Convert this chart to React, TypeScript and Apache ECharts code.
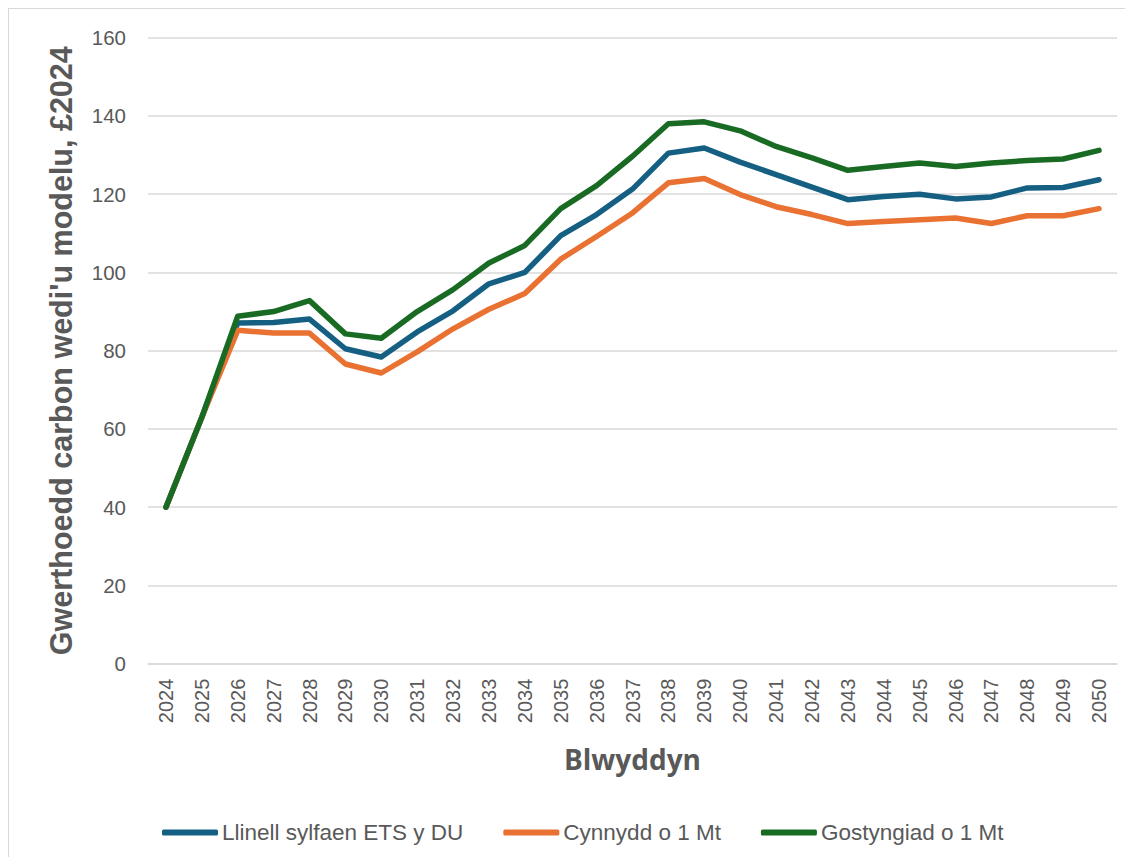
import React, { useEffect, useRef } from "react";
import * as echarts from "echarts";

const years = [
  "2024", "2025", "2026", "2027", "2028", "2029", "2030", "2031", "2032", "2033",
  "2034", "2035", "2036", "2037", "2038", "2039", "2040", "2041", "2042", "2043",
  "2044", "2045", "2046", "2047", "2048", "2049", "2050",
];

const baseline = [
  40, 63, 87.1, 87.2, 88.1, 80.5, 78.4, 84.8, 90.2, 97.1, 100.0, 109.4, 114.8, 121.3,
  130.5, 131.8, 128.2, 125.0, 121.8, 118.6, 119.4, 120.0, 118.8, 119.3, 121.6, 121.7, 123.7,
];

const increase = [
  40, 63, 85.2, 84.5, 84.5, 76.6, 74.3, 79.7, 85.6, 90.6, 94.6, 103.4, 109.2, 115.2,
  122.9, 124.0, 119.9, 116.8, 114.8, 112.5, 113.0, 113.5, 113.9, 112.5, 114.5, 114.5, 116.3,
];

const decrease = [
  40, 63, 88.8, 90.0, 92.8, 84.3, 83.2, 90.0, 95.6, 102.4, 106.9, 116.3, 122.2, 129.7,
  138.0, 138.5, 136.2, 132.2, 129.3, 126.1, 127.1, 128.0, 127.1, 128.0, 128.6, 129.0, 131.2,
];

const seriesNames = ["Llinell sylfaen ETS y DU", "Cynnydd o 1 Mt", "Gostyngiad o 1 Mt"];
const seriesColors = ["#156082", "#E97132", "#196B24"];
const yTitle = "Gwerthoedd carbon wedi'u modelu, £2024";
const xTitle = "Blwyddyn";

export default function App() {
  const ref = useRef<HTMLDivElement>(null);

  useEffect(() => {
    if (!ref.current) return;
    const chart = echarts.init(ref.current, undefined, { renderer: "svg" });
    const values = [baseline, increase, decrease];
    chart.setOption({
      animation: false,
      backgroundColor: "#ffffff",
      grid: { left: 139, right: 8, top: 28.7, bottom: 193.3, containLabel: false },
      legend: {
        left: 148,
        top: 807,
        icon: "roundRect",
        itemWidth: 56,
        itemHeight: 6,
        itemGap: 40,
        data: seriesNames,
        textStyle: {
          fontFamily: "Liberation Sans Narrow, Liberation Sans, sans-serif",
          fontSize: 22.5,
          color: "#595959",
          padding: [0, 0, 0, -1],
        },
      },
      xAxis: {
        type: "category",
        data: years,
        boundaryGap: true,
        axisLine: { show: true, lineStyle: { color: "#d9d9d9", width: 1.5 } },
        axisTick: { show: false },
        axisLabel: {
          rotate: 90,
          interval: 0,
          margin: 15,
          fontFamily: "Liberation Sans, Arial, sans-serif",
          fontSize: 20,
          color: "#595959",
        },
        name: xTitle,
        nameLocation: "middle",
        nameGap: 81,
        nameTextStyle: {
          fontFamily: "Open Sans, sans-serif",
          fontWeight: "bold",
          fontSize: 28,
          color: "#595959",
        },
      },
      yAxis: {
        type: "value",
        min: 0,
        max: 160,
        interval: 20,
        axisLine: { show: false },
        axisTick: { show: false },
        splitLine: { lineStyle: { color: "#d9d9d9", width: 1.5 } },
        axisLabel: {
          margin: 22,
          fontFamily: "Liberation Sans, Arial, sans-serif",
          fontSize: 20.5,
          color: "#595959",
        },
        name: yTitle,
        nameLocation: "middle",
        nameGap: 72,
        nameTextStyle: {
          fontFamily: "Liberation Sans, Arial, sans-serif",
          fontWeight: "bold",
          fontSize: 30.5,
          color: "#595959",
        },
      },
      series: seriesNames.map((name, i) => ({
        name,
        type: "line",
        data: values[i],
        symbol: "none",
        color: seriesColors[i],
        lineStyle: { width: 5.5, color: seriesColors[i], cap: "round", join: "round" },
      })),
    });
    return () => chart.dispose();
  }, []);

  return (
    <div
      ref={ref}
      style={{
        width: 1116,
        height: 848,
        borderLeft: "1px solid #d9d9d9",
        borderTop: "1px solid #d9d9d9",
        boxSizing: "content-box",
      }}
    />
  );
}
